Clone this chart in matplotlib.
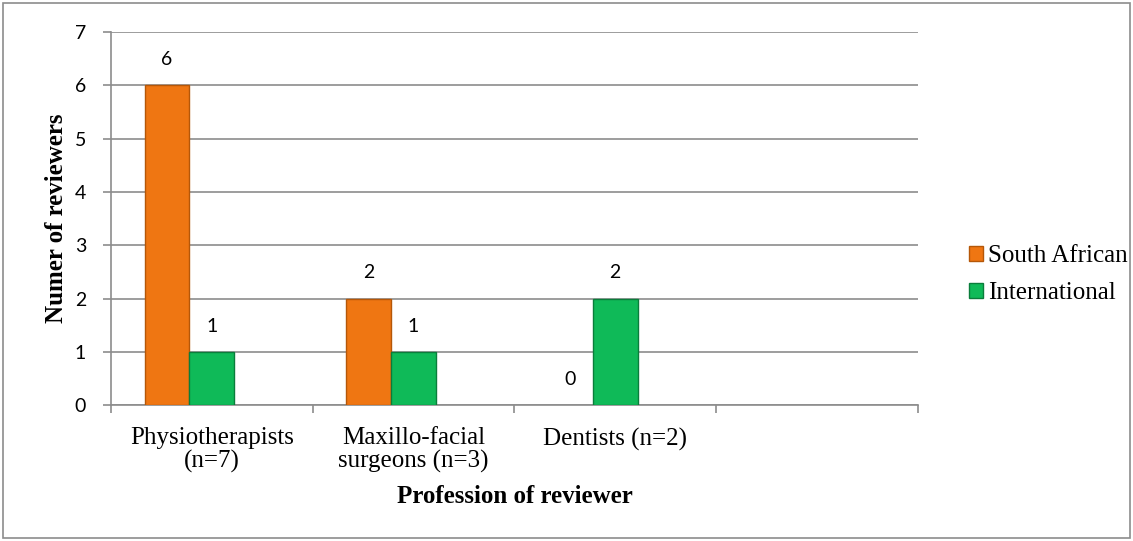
import matplotlib
matplotlib.use("Agg")
from matplotlib import pyplot as plt
from matplotlib.patches import Rectangle
import numpy as np

categories = ["Physiotherapists\n(n=7)", "Maxillo-facial\nsurgeons (n=3)", "Dentists (n=2)", ""]
south_african = [6, 2, 0]
international = [1, 1, 2]
yticks = [0, 1, 2, 3, 4, 5, 6, 7]

orange = "#EF7612"
orange_edge = "#B55708"
green = "#0FBA58"
green_edge = "#0A7D3B"
grid_col = "#8C8C8C"

fig = plt.figure(figsize=(11.33, 5.41), dpi=100)
ax = fig.add_axes([0.098, 0.251, 0.712, 0.690])

x = np.arange(len(categories))
w = 0.222

sa_x = x[:3] - w
in_x = x[:3]

# no outline for empty bars (value 0)
ax.bar(sa_x, south_african, width=w, color=orange, edgecolor=orange_edge,
       linewidth=[1 if v else 0 for v in south_african], label="South African", zorder=3)
ax.bar(in_x, international, width=w, color=green, edgecolor=green_edge,
       linewidth=[1 if v else 0 for v in international], label="International", zorder=3)

num_font = ["Lato", "DejaVu Sans"]
serif = "Liberation Serif"
for xi, v in zip(sa_x, south_african):
    ax.text(xi, v + 0.32, str(v), ha="center", va="bottom", fontsize=14, family=num_font)
for xi, v in zip(in_x, international):
    ax.text(xi, v + 0.32, str(v), ha="center", va="bottom", fontsize=14, family=num_font)

ax.set_xlim(-0.5, 3.5)
ax.set_ylim(0, 7)
ax.set_yticks(yticks)
ax.set_yticklabels([str(t) for t in yticks], fontsize=14, family=num_font)
ax.yaxis.grid(True, color=grid_col, linewidth=1.2, zorder=0)
ax.set_axisbelow(True)

ax.set_xticks(x)
ax.set_xticklabels(categories, fontsize=18, family=serif, linespacing=1.05)
ax.tick_params(axis="x", length=0, pad=16)
ax.set_xticks(np.arange(-0.5, 4, 1), minor=True)
ax.tick_params(axis="x", which="minor", length=6, color=grid_col, width=1.2)
ax.tick_params(axis="y", length=6, color=grid_col, width=1.2, pad=12)

for s in ["top", "right"]:
    ax.spines[s].set_visible(False)
for s in ["left", "bottom"]:
    ax.spines[s].set_color(grid_col)
    ax.spines[s].set_linewidth(1.2)

ax.set_xlabel("Profession of reviewer", fontsize=18, fontweight="bold", family=serif)
ax.set_ylabel("Numer of reviewers", fontsize=18, fontweight="bold", family=serif)
ax.xaxis.set_label_coords(0.5, -0.214)
ax.yaxis.set_label_coords(-0.053, 0.5)

leg = ax.legend(loc="center left", bbox_to_anchor=(1.036, 0.35), frameon=False,
                prop={"family": serif, "size": 18},
                handlelength=0.56, handleheight=0.56, handletextpad=0.2, labelspacing=0.6)

fig.patches.append(Rectangle((0.003, 0.005), 0.994, 0.99, transform=fig.transFigure,
                             fill=False, edgecolor="#8C8C8C", linewidth=1.2))

fig.savefig("out.png", dpi=100)
